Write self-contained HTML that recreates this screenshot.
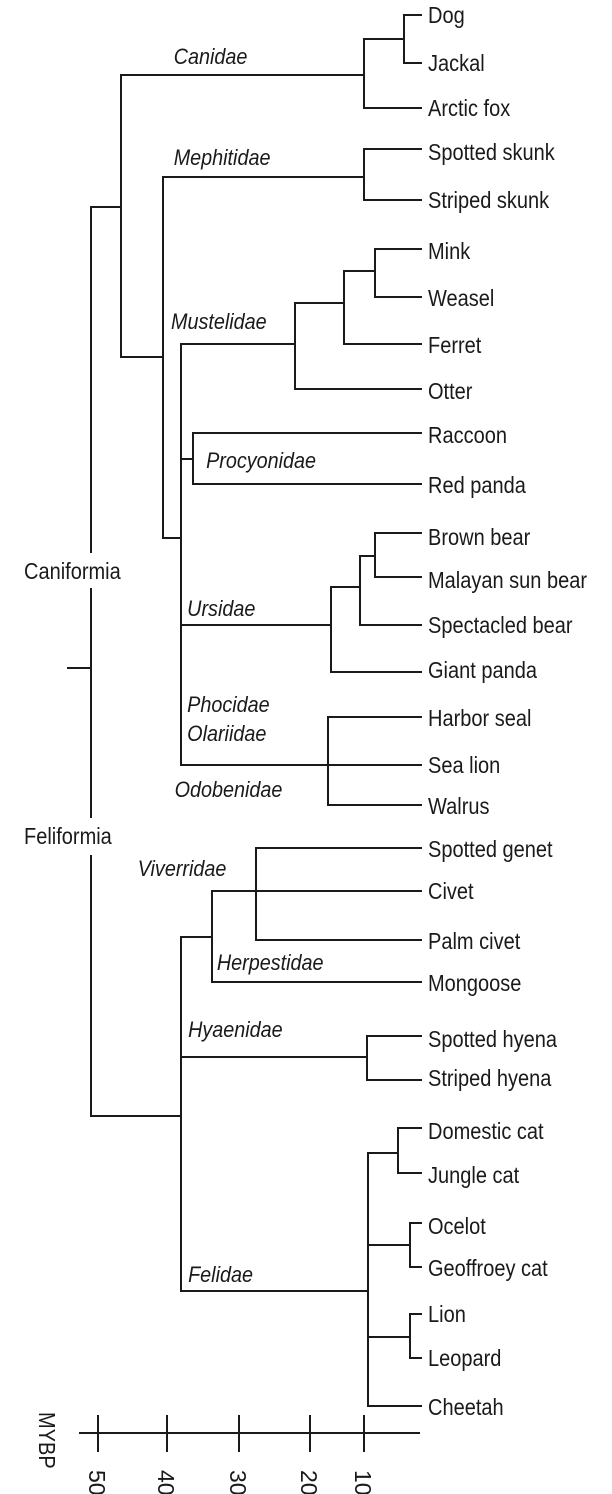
<!DOCTYPE html>
<html><head><meta charset="utf-8"><style>
html,body{margin:0;padding:0;background:#fff;}
svg{display:block;}
text{font-family:"Liberation Sans Narrow","Liberation Sans",sans-serif;fill:#1a1a1a;}
.s{font-size:23px;}
.f{font-size:22px;font-style:italic;}
</style></head><body>
<svg width="612" height="1494" viewBox="0 0 612 1494" xmlns="http://www.w3.org/2000/svg">
<g stroke="#1a1a1a" stroke-width="2" fill="none" stroke-linecap="square">
<path d="M68 668H91"/>
<path d="M91 207V552M91 589V817M91 856V1116"/>
<path d="M91 207H121M91 1116H181"/>
<path d="M121 75V357M121 75H364M121 357H163"/>
<path d="M364 39V108M364 39H404M364 108H421M404 15V63M404 15H421M404 63H421"/>
<path d="M163 177V538M163 177H364M364 149V200M364 149H421M364 200H421M163 538H181"/>
<path d="M181 344V765M181 344H295M295 303V389M295 389H421M295 303H344M344 271V344M344 344H421M344 271H375M375 249V297M375 249H421M375 297H421"/>
<path d="M181 459H193M193 433V484M193 433H421M193 484H421"/>
<path d="M181 625H331M331 587V672M331 672H421M331 587H360M360 556V625M360 625H421M360 556H375M375 533V577M375 533H421M375 577H421"/>
<path d="M181 765H421M328 717V805M328 717H421M328 805H421"/>
<path d="M181 937V1291M181 937H212M212 891V982M212 891H421M212 982H421M256 848V940M256 848H421M256 940H421"/>
<path d="M181 1057H367M367 1036V1080M367 1036H421M367 1080H421"/>
<path d="M181 1291H368M368 1153V1406M368 1406H421M368 1153H398M398 1128V1173M398 1128H421M398 1173H421"/>
<path d="M368 1245H410M410 1223V1267M410 1223H421M410 1267H421M368 1337H410M410 1314V1358M410 1314H421M410 1358H421"/>
<path d="M80 1433H419M98 1416V1451M167 1416V1451M239 1416V1451M310 1416V1451M364 1416V1451"/>
</g>
<g class="s" dominant-baseline="central" transform="translate(428,0) scale(0.87,1)">
<text x="0" y="15">Dog</text>
<text x="0" y="63">Jackal</text>
<text x="0" y="108">Arctic fox</text>
<text x="0" y="152">Spotted skunk</text>
<text x="0" y="200">Striped skunk</text>
<text x="0" y="251">Mink</text>
<text x="0" y="298">Weasel</text>
<text x="0" y="345">Ferret</text>
<text x="0" y="391">Otter</text>
<text x="0" y="435">Raccoon</text>
<text x="0" y="485">Red panda</text>
<text x="0" y="537">Brown bear</text>
<text x="0" y="580">Malayan sun bear</text>
<text x="0" y="625">Spectacled bear</text>
<text x="0" y="670">Giant panda</text>
<text x="0" y="718">Harbor seal</text>
<text x="0" y="765">Sea lion</text>
<text x="0" y="806">Walrus</text>
<text x="0" y="849">Spotted genet</text>
<text x="0" y="891">Civet</text>
<text x="0" y="941">Palm civet</text>
<text x="0" y="983">Mongoose</text>
<text x="0" y="1039">Spotted hyena</text>
<text x="0" y="1078">Striped hyena</text>
<text x="0" y="1131">Domestic cat</text>
<text x="0" y="1175">Jungle cat</text>
<text x="0" y="1226">Ocelot</text>
<text x="0" y="1268">Geoffroey cat</text>
<text x="0" y="1314">Lion</text>
<text x="0" y="1358">Leopard</text>
<text x="0" y="1407">Cheetah</text>
</g>
<g class="s" dominant-baseline="central" transform="translate(24,0) scale(0.87,1)">
<text x="0" y="571">Caniformia</text>
<text x="0" y="836">Feliformia</text>
</g>
<g class="f" dominant-baseline="central" transform="scale(0.9,1)">
<text x="193" y="57">Canidae</text>
<text x="193" y="158">Mephitidae</text>
<text x="190" y="322">Mustelidae</text>
<text x="229" y="461">Procyonidae</text>
<text x="208" y="609">Ursidae</text>
<text x="208" y="705">Phocidae</text>
<text x="208" y="734">Olariidae</text>
<text x="194" y="790">Odobenidae</text>
<text x="153" y="869">Viverridae</text>
<text x="241" y="963">Herpestidae</text>
<text x="209" y="1030">Hyaenidae</text>
<text x="209" y="1275">Felidae</text>
</g>
<g class="s">
<text transform="translate(39,1412) rotate(90) scale(0.87,1)">MYBP</text>
<text transform="translate(89,1470) rotate(90)">50</text>
<text transform="translate(158,1470) rotate(90)">40</text>
<text transform="translate(230,1470) rotate(90)">30</text>
<text transform="translate(301,1470) rotate(90)">20</text>
<text transform="translate(355,1470) rotate(90)">10</text>
</g>
</svg>
</body></html>
